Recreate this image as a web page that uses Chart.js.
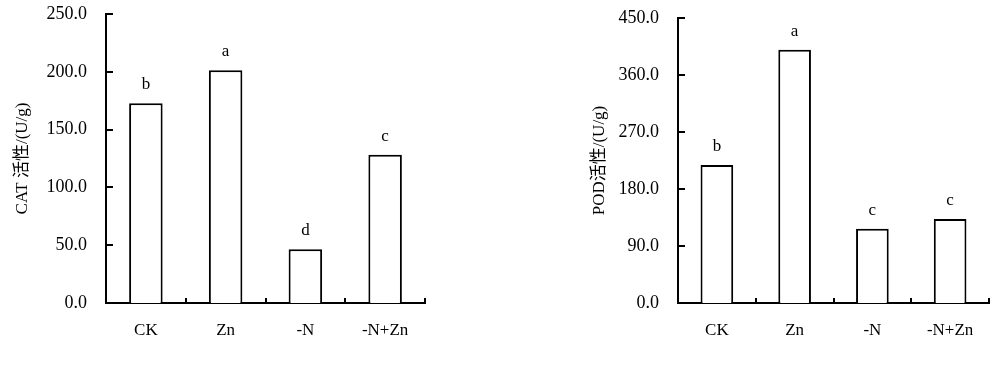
<!DOCTYPE html>
<html>
<head>
<meta charset="utf-8">
<script src="https://cdn.jsdelivr.net/npm/chart.js@4.4.1/dist/chart.umd.min.js"></script>
<style>
    body { margin: 0; background: #fff; }
    #wrap { position: relative; width: 1000px; height: 367px; }
    canvas { position: absolute; top: 0; }
</style>
</head>
<body>
<div id="wrap">
    <canvas id="cat-chart" width="500" height="367" style="left:0"></canvas>
    <canvas id="pod-chart" width="500" height="367" style="left:500px"></canvas>
</div>
<script>
const categories = ['CK', 'Zn', '-N', '-N+Zn'];

// CAT activity (U/g)
const catValues = [172.7, 201.3, 46.4, 128.3];
const catLetters = ['b', 'a', 'd', 'c'];
const catTicks = { min: 0, max: 250, step: 50 };

// POD activity (U/g)
const podValues = [218, 400, 117.3, 132.6];
const podLetters = ['b', 'a', 'c', 'c'];
const podTicks = { min: 0, max: 450, step: 90 };

const fontFamily = '"Liberation Serif", "Times New Roman", "Noto Sans CJK SC", serif';

// inward tick marks + significance letters above bars
const marksPlugin = {
    id: 'marks',
    afterDatasetsDraw(chart, args, opts) {
        const ctx = chart.ctx;
        const xs = chart.scales.x;
        const ys = chart.scales.y;
        const area = chart.chartArea;
        ctx.save();
        ctx.strokeStyle = '#000';
        ctx.lineWidth = 2;
        ctx.beginPath();
        ys.ticks.forEach(function(t, i) {
            const py = Math.round(ys.getPixelForTick(i));
            ctx.moveTo(area.left, py);
            ctx.lineTo(area.left + 7, py);
        });
        const half = (xs.getPixelForValue(1) - xs.getPixelForValue(0)) / 2;
        for (let i = 0; i < categories.length; i++) {
            const px = Math.round(xs.getPixelForValue(i) + half);
            ctx.moveTo(px, area.bottom);
            ctx.lineTo(px, area.bottom - 5);
        }
        ctx.stroke();

        const meta = chart.getDatasetMeta(0);
        ctx.fillStyle = '#000';
        ctx.font = '17px ' + fontFamily;
        ctx.textAlign = 'center';
        ctx.textBaseline = 'alphabetic';
        meta.data.forEach(function(bar, i) {
            ctx.fillText(opts.letters[i], bar.x, bar.y - 14);
        });
        ctx.restore();
    }
};

function makeChart(id, values, letters, tickCfg, title, yWidth, titlePad, padding) {
    const ctx = document.getElementById(id);
    return new Chart(ctx, {
        type: 'bar',
        data: {
            labels: categories,
            datasets: [{
                data: values,
                backgroundColor: '#fff',
                borderColor: '#000',
                borderWidth: 2,
                barPercentage: 0.42,
                categoryPercentage: 1
            }]
        },
        options: {
            responsive: false,
            animation: false,
            layout: { padding: padding },
            plugins: {
                legend: { display: false },
                tooltip: { enabled: false },
                marks: { letters: letters }
            },
            scales: {
                x: {
                    grid: { display: false, drawTicks: false },
                    border: { display: true, color: '#000', width: 2 },
                    ticks: { color: '#000', padding: 17, font: { family: fontFamily, size: 17 } },
                    afterFit: function(scale) { scale.height = 64; }
                },
                y: {
                    min: tickCfg.min,
                    max: tickCfg.max,
                    grid: { display: false, drawTicks: false },
                    border: { display: true, color: '#000', width: 2 },
                    ticks: {
                        stepSize: tickCfg.step,
                        color: '#000',
                        padding: 19,
                        font: { family: fontFamily, size: 18 },
                        callback: function(v) { return v.toFixed(1); }
                    },
                    title: {
                        display: true,
                        text: title,
                        color: '#000',
                        padding: { top: titlePad, bottom: 0 },
                        font: { family: fontFamily, size: 17 }
                    },
                    afterFit: function(scale) {
                        scale.width = yWidth;
                        scale.paddingTop = 0;
                        scale.paddingBottom = 0;
                    }
                }
            }
        },
        plugins: [marksPlugin]
    });
}

makeChart('cat-chart', catValues, catLetters, catTicks, 'CAT 活性/(U/g)', 106, 12,
    { left: 0, top: 14, right: 75, bottom: 0 });
makeChart('pod-chart', podValues, podLetters, podTicks, 'POD活性/(U/g)', 178, 89,
    { left: 0, top: 18, right: 11, bottom: 0 });
</script>
</body>
</html>
